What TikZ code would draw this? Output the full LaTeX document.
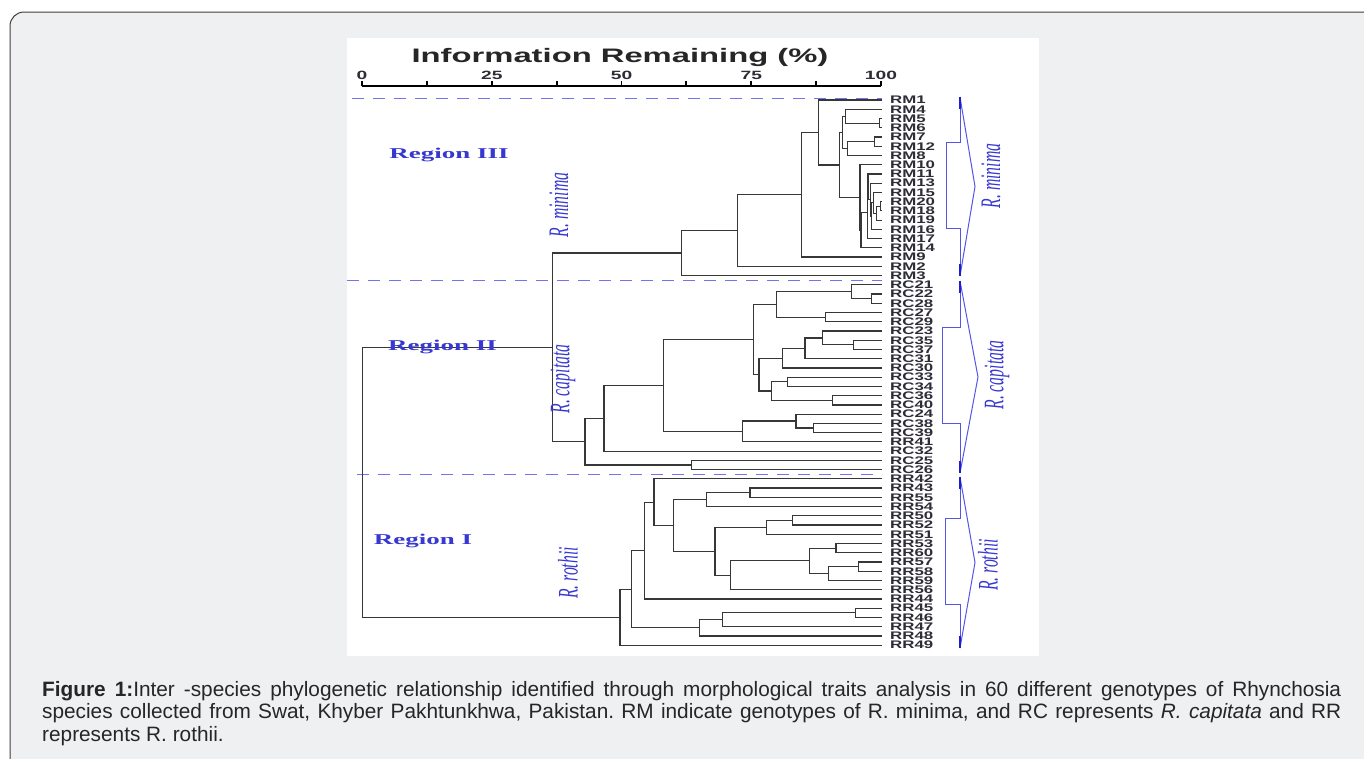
\documentclass[tikz,border=0pt]{standalone}
\usepackage{fontspec}
\setmainfont{Liberation Serif}
\setsansfont{Liberation Sans}
\usepackage{graphicx}
\usetikzlibrary{calc}
\frenchspacing

\definecolor{panelgray}{RGB}{239,240,242}
\definecolor{twiggray}{RGB}{55,55,55}
\definecolor{leafgray}{RGB}{45,45,55}
\definecolor{dashblue}{RGB}{115,115,235}
\definecolor{brblue}{RGB}{85,85,230}
\definecolor{brdark}{RGB}{30,30,205}
\definecolor{regblue}{RGB}{55,55,210}

% one cluster join: name, x of the join, upper child, lower child
\newcommand{\clj}[4]{%
	\path let \p1=(#3), \p2=(#4) in coordinate (#1) at (#2pt,{0.5*(\y1+\y2)});
	\draw[twig] (#3) -| (#1) |- (#4);
}
% species bracket on the right: top, bottom, bracket top, bracket bottom, left x, peak x
\newcommand{\spbrace}[6]{%
	\draw[brline] (960,#1) -- (960,#3) -- (#5,#3) -- (#5,#4) -- (960,#4) -- (960,#2);
	\draw[brline] (960,#1) -- (#6,{(#1+#2)/2}) -- (960,#2);
	\draw[brend] (960,#1) -- ++(0,12);
	\draw[brend] (960,#2) -- ++(0,-12);
}

\begin{document}
\begin{tikzpicture}[x=1pt,y=-1pt,
		twig/.style={line width=1.2pt,draw=twiggray},
		leaf/.style={anchor=west,inner sep=0pt,text=leafgray,font=\sffamily\bfseries\fontsize{11}{11}\selectfont},
		ticklab/.style={inner sep=0pt,text=leafgray,font=\sffamily\bfseries\fontsize{12}{12}\selectfont},
		axtitle/.style={inner sep=0pt,text=black!85,font=\sffamily\bfseries\fontsize{19.5}{19.5}\selectfont},
		region/.style={inner sep=0pt,text=regblue,font=\bfseries\fontsize{15}{15}\selectfont},
		taxon/.style={inner sep=0pt,rotate=90,text=regblue,font=\itshape\fontsize{15.7}{15.7}\selectfont},
		sepline/.style={dashblue,line width=1pt,dash pattern=on 12pt off 9pt},
		brline/.style={brblue,line width=1pt},
		brend/.style={brdark,line width=2pt},
		capline/.style={anchor=base west,inner sep=0pt,text=black!85,font=\sffamily\fontsize{20.8}{22}\selectfont}]
	
	\useasboundingbox (0,0) rectangle (1364,758);
	\fill[white] (0,0) rectangle (1364,758);
	\begin{scope}
		\clip (0,0) rectangle (1364,758);
		\draw[fill=panelgray,draw=black!75,line width=1pt,rounded corners=14pt] (10,12) rectangle (1420,800);
	\end{scope}
	\fill[white] (347,38) rectangle (1039,656);
	
	% axis
	\node[axtitle] (axt) at (620,57) {\scalebox{1.68}[1]{Information Remaining (\%)}};
	\draw[line width=1.8pt] (362,86) -- (881,86);
	\foreach \k in {0,...,8}
		\draw[line width=1.8pt] ({362+64.875*\k},86) -- ++(0,-5);
	\foreach \v [count=\j from 0] in {0,25,50,75,100}
		\node[ticklab] (k\v) at ({362+129.75*\j},75) {\scalebox{1.6}[1]{\v}};
	
	% region borders
	\draw[sepline] (352,98.5) -- (882,98.5);
	\draw[sepline] (347,280) -- (882,280);
	\draw[sepline] (357,474) -- (882,474);
	
	% leaves
	\foreach \g [count=\i from 0] in {RM1,RM4,RM5,RM6,RM7,RM12,RM8,RM10,RM11,RM13,RM15,RM20,RM18,RM19,RM16,RM17,RM14,RM9,RM2,RM3,RC21,RC22,RC28,RC27,RC29,RC23,RC35,RC37,RC31,RC30,RC33,RC34,RC36,RC40,RC24,RC38,RC39,RR41,RC32,RC25,RC26,RR42,RR43,RR55,RR54,RR50,RR52,RR51,RR53,RR60,RR57,RR58,RR59,RR56,RR44,RR45,RR46,RR47,RR48,RR49}{
		\coordinate (\g) at (882,{100+9.24*\i});
		\node[leaf] (t\g) at (890,{100+9.24*\i}) {\scalebox{1.53}[1]{\g}};
	}
	
	% R. minima
	\clj{m56}{879.3}{RM5}{RM6}
	\clj{mC}{845.7}{RM4}{m56}
	\clj{m712}{874.3}{RM7}{RM12}
	\clj{mD}{847.7}{m712}{RM8}
	\clj{mE}{842.7}{mC}{mD}
	\clj{ma}{880.3}{RM20}{RM18}
	\clj{mw}{876.7}{ma}{RM19}
	\clj{mv}{873.5}{RM15}{mw}
	\clj{mu}{871.3}{mv}{RM16}
	\clj{mt}{870.5}{RM13}{mu}
	\clj{ms}{868}{RM11}{mt}
	\clj{mr}{867.2}{ms}{RM17}
	\clj{mq}{861}{mr}{RM14}
	\clj{mf}{860}{RM10}{mq}
	\clj{mB}{839.3}{mE}{mf}
	\clj{mA}{818.3}{RM1}{mB}
	\clj{mG}{801.7}{mA}{RM9}
	\clj{mH}{737.3}{mG}{RM2}
	\clj{mI}{681.7}{mH}{RM3}
	
	% R. capitata
	\clj{c2228}{871.7}{RC22}{RC28}
	\clj{c21}{851.7}{RC21}{c2228}
	\clj{c2729}{825.7}{RC27}{RC29}
	\clj{cR}{776.7}{c21}{c2729}
	\clj{c3537}{853.3}{RC35}{RC37}
	\clj{cW}{822.3}{RC23}{c3537}
	\clj{cV}{805}{cW}{RC31}
	\clj{cT}{782.3}{cV}{RC30}
	\clj{c3334}{787.3}{RC33}{RC34}
	\clj{c3640}{832.3}{RC36}{RC40}
	\clj{cU}{771.7}{c3334}{c3640}
	\clj{cS}{759}{cT}{cU}
	\clj{cO}{753.3}{cR}{cS}
	\clj{c3839}{813.3}{RC38}{RC39}
	\clj{cQ}{796}{RC24}{c3839}
	\clj{cP}{742.3}{cQ}{RR41}
	\clj{cN}{663.3}{cO}{cP}
	\clj{cM}{604}{cN}{RC32}
	\clj{c2526}{691.7}{RC25}{RC26}
	\clj{cL}{585}{cM}{c2526}
	\clj{mJ}{552.7}{mI}{cL}
	
	% R. rothii
	\clj{r4355}{750}{RR43}{RR55}
	\clj{rZ3}{706.7}{r4355}{RR54}
	\clj{r5052}{792.3}{RR50}{RR52}
	\clj{rZ6}{766.7}{r5052}{RR51}
	\clj{r5360}{836}{RR53}{RR60}
	\clj{r5758}{858.3}{RR57}{RR58}
	\clj{rZ11}{828.3}{r5758}{RR59}
	\clj{rZ9}{809.3}{r5360}{rZ11}
	\clj{rZ7}{730.7}{rZ9}{RR56}
	\clj{rZ4}{715}{rZ6}{rZ7}
	\clj{rZ2}{673.3}{rZ3}{rZ4}
	\clj{rZ1}{654}{RR42}{rZ2}
	\clj{rZ}{644.3}{rZ1}{RR44}
	\clj{r4546}{855.3}{RR45}{RR46}
	\clj{rAB}{722.3}{r4546}{RR47}
	\clj{rAA}{699.3}{rAB}{RR48}
	\clj{rY}{631.7}{rZ}{rAA}
	\clj{rX}{620}{rY}{RR49}
	\clj{root}{362.7}{mJ}{rX}
	
	% labels
	\node[region] (reg3) at (449,155) {\scalebox{1.8}[1]{Region III}};
	\node[region] (reg2) at (442.5,347) {\scalebox{1.8}[1]{Region II}};
	\node[region] (reg1) at (423,541) {\scalebox{1.8}[1]{Region I}};
	\node[taxon] (lmin) at (559,205) {\scalebox{1}[1.8]{R. minima}};
	\node[taxon] (lcap) at (563,379) {\scalebox{1}[1.8]{R. capitata}};
	\node[taxon] (lrot) at (568,573) {\scalebox{1}[1.8]{R. rothii}};
	
	% species brackets
	\spbrace{97}{276}{142}{228}{946.7}{975}
	\spbrace{281}{473}{327}{423}{942.7}{978}
	\spbrace{477}{648}{518}{604}{945.7}{975}
	\node[taxon] (smin) at (991,176) {\scalebox{1}[1.8]{R. minima}};
	\node[taxon] (scap) at (997,375) {\scalebox{1}[1.8]{R. capitata}};
	\node[taxon] (srot) at (988,565) {\scalebox{1}[1.8]{R. rothii}};
	
	% caption
	\node[capline] (cap1) at (42,696) {\makebox[1299pt][s]{\textbf{Figure 1:}Inter -species phylogenetic relationship identified through morphological traits analysis in 60 different genotypes of Rhynchosia}};
	\node[capline] (cap2) at (42,718.5) {\makebox[1299pt][s]{species collected from Swat, Khyber Pakhtunkhwa, Pakistan. RM indicate genotypes of R. minima, and RC represents \textit{R. capitata} and RR}};
	\node[capline] (cap3) at (42,741) {represents R. rothii.};
	
\end{tikzpicture}
\end{document}
